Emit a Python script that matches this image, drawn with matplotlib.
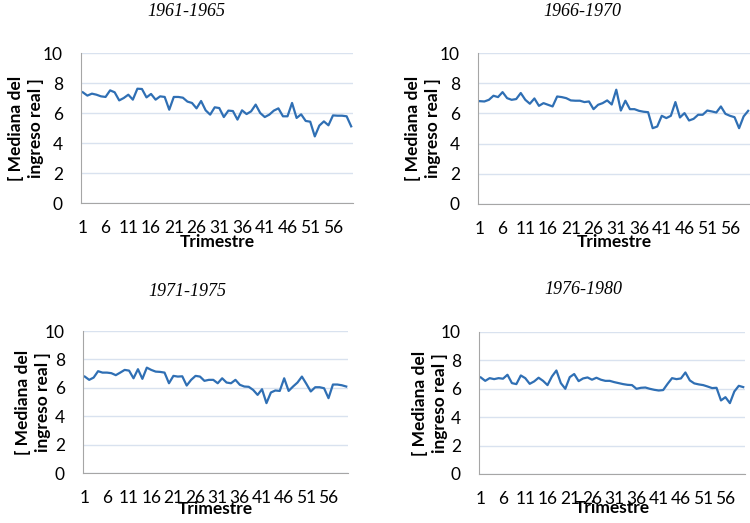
import matplotlib
matplotlib.use('Agg')
import matplotlib.pyplot as plt
import numpy as np

# trimestres 1..60 por periodo
trimestre = list(range(1, 61))
tick_labels = [str(t) for t in range(1, 60, 5)]

p1961 = [7.38, 7.16, 7.29, 7.22, 7.11, 7.07, 7.51, 7.38, 6.84, 7.00,
         7.22, 6.89, 7.62, 7.60, 7.04, 7.27, 6.89, 7.11, 7.07, 6.22,
         7.07, 7.07, 7.02, 6.76, 6.67, 6.31, 6.80, 6.18, 5.89, 6.38,
         6.33, 5.73, 6.16, 6.13, 5.56, 6.18, 5.93, 6.11, 6.56, 6.00,
         5.73, 5.89, 6.16, 6.31, 5.78, 5.78, 6.67, 5.67, 5.91, 5.47,
         5.42, 4.44, 5.16, 5.44, 5.18, 5.84, 5.82, 5.82, 5.78, 5.11]

p1966 = [6.81, 6.79, 6.90, 7.17, 7.08, 7.41, 7.01, 6.90, 6.95, 7.35,
         6.90, 6.64, 6.99, 6.50, 6.68, 6.57, 6.46, 7.12, 7.08, 7.01,
         6.86, 6.84, 6.84, 6.75, 6.79, 6.28, 6.57, 6.68, 6.86, 6.59,
         7.57, 6.19, 6.84, 6.28, 6.28, 6.17, 6.11, 6.08, 5.02, 5.13,
         5.84, 5.69, 5.84, 6.75, 5.73, 6.02, 5.53, 5.64, 5.91, 5.91,
         6.19, 6.13, 6.06, 6.46, 5.97, 5.84, 5.75, 5.02, 5.80, 6.17]

p1971 = [6.79, 6.56, 6.72, 7.17, 7.07, 7.07, 7.03, 6.89, 7.07, 7.26,
         7.21, 6.67, 7.31, 6.63, 7.42, 7.26, 7.14, 7.12, 7.07, 6.32,
         6.84, 6.79, 6.81, 6.16, 6.56, 6.84, 6.79, 6.49, 6.56, 6.56,
         6.32, 6.67, 6.37, 6.32, 6.56, 6.21, 6.09, 6.07, 5.85, 5.50,
         5.90, 4.92, 5.67, 5.81, 5.78, 6.67, 5.78, 6.09, 6.37, 6.79,
         6.28, 5.74, 6.04, 6.04, 5.97, 5.27, 6.23, 6.23, 6.18, 6.09]

p1976 = [6.80, 6.56, 6.75, 6.68, 6.75, 6.71, 6.99, 6.40, 6.33, 6.94,
         6.75, 6.35, 6.52, 6.78, 6.56, 6.26, 6.87, 7.29, 6.40, 6.00,
         6.82, 7.04, 6.54, 6.73, 6.80, 6.64, 6.78, 6.64, 6.56, 6.56,
         6.47, 6.40, 6.33, 6.28, 6.26, 6.00, 6.07, 6.09, 6.00, 5.93,
         5.88, 5.91, 6.35, 6.75, 6.68, 6.73, 7.15, 6.59, 6.38, 6.31,
         6.26, 6.16, 6.05, 6.07, 5.18, 5.41, 4.99, 5.81, 6.21, 6.12]

series = [p1961, p1966, p1971, p1976]
titles = ['1961-1965', '1966-1970', '1971-1975', '1976-1980']

W, H = 750, 523
fig = plt.figure(figsize=(W / 100, H / 100), dpi=100)

# axes boxes in pixels: left, right, top, bottom
boxes = [(81, 353, 53, 203), (478, 750, 53, 204),
         (83, 348, 331, 473), (479, 745, 332, 474)]
title_pos = [(186, 12), (582, 12), (187, 292), (583, 289)]
ylabel_x = [26, 423, 33, 430]
xlabel_y = [242, 242, 509, 508]

font = 'Lato'
line_color = '#2f6fb4'
grid_color = '#d9e2ef'

for i, (left, right, top, bottom) in enumerate(boxes):
    ax = fig.add_axes([left / W, 1 - bottom / H, (right - left) / W, (bottom - top) / H])
    ax.plot(trimestre, series[i], color=line_color, linewidth=1.6)
    ax.set_ylim(0, 10)
    ax.set_xlim(0.6, 60.4)
    ax.set_yticks([0, 2, 4, 6, 8, 10])
    ax.set_xticks(range(1, 60, 5))
    ax.set_xticklabels(tick_labels)
    ax.yaxis.grid(True, color=grid_color, linewidth=1)
    ax.set_axisbelow(True)
    for s in ['top', 'right']:
        ax.spines[s].set_visible(False)
    for s in ['left', 'bottom']:
        ax.spines[s].set_color('#a6a6a6')
    ax.tick_params(length=0, labelsize=12.5)
    ax.tick_params(axis='y', pad=13)
    ax.tick_params(axis='x', pad=12)
    for lab in ax.get_xticklabels() + ax.get_yticklabels():
        lab.set_fontfamily(font)
    cx = (left + right) / 2
    fig.text(cx / W, 1 - xlabel_y[i] / H, 'Trimestre', ha='center', va='center',
             fontsize=12.5, fontweight='bold', family=font)
    fig.text(ylabel_x[i] / W, 1 - (top + bottom) / 2 / H, '[ Mediana del\ningreso real ]',
             ha='center', va='center', rotation=90, fontsize=12.5, fontweight='bold',
             family=font, linespacing=1.25, multialignment='center')
    tx, ty = title_pos[i]
    fig.text(tx / W, 1 - ty / H, titles[i], ha='center', va='center',
             family='Liberation Serif', style='italic', fontsize=13)

plt.savefig('out.png', dpi=100)
